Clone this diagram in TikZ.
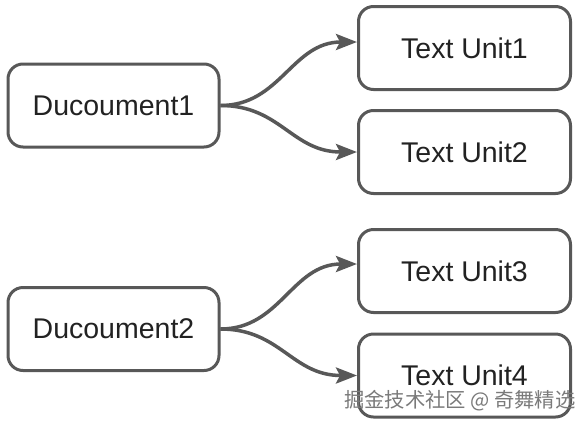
\documentclass[tikz,border=0pt]{standalone}
\usepackage{fontspec}
\setmainfont{Liberation Sans}
\newfontfamily\cjkfont{Noto Sans CJK SC}
\usetikzlibrary{arrows.meta}
\definecolor{linegray}{HTML}{585858}
\definecolor{textdark}{HTML}{222222}
\definecolor{wmgray}{HTML}{7A7A7A}
\tikzset{
  box/.style={draw=linegray, line width=3pt, rounded corners=15pt, fill=white,
    text=textdark, font=\fontsize{28.5}{31}\selectfont, inner sep=0pt},
  docbox/.style={box, minimum width=211pt, minimum height=83pt},
  unitbox/.style={box, minimum width=212pt, minimum height=83pt},
  conn/.style={draw=linegray, line width=3.5pt,
    -{Stealth[length=21pt,width=16pt,inset=4pt]}},
}
\begin{document}
\begin{tikzpicture}[x=1pt,y=-1pt]
\useasboundingbox (0,0) rectangle (584,424);
\node[docbox] (d1) at (113.5,105.5) {Ducoument1};
\node[docbox] (d2) at (113.5,329) {Ducoument2};
\node[unitbox] (u1) at (464.5,48) {Text Unit1};
\node[unitbox] (u2) at (464.5,152) {Text Unit2};
\node[unitbox] (u3) at (464.5,271) {Text Unit3};
\node[unitbox] (u4) at (464.5,375.5) {Text Unit4};
\draw[conn] (d1.east) .. controls +(60,0) and +(-65,0) .. ([yshift=6pt]u1.west);
\draw[conn] (d1.east) .. controls +(60,0) and +(-65,0) .. (u2.west);
\draw[conn] (d2.east) .. controls +(60,0) and +(-65,0) .. ([yshift=7pt]u3.west);
\draw[conn] (d2.east) .. controls +(60,0) and +(-65,0) .. (u4.west);
\node[anchor=west, text=wmgray, font=\cjkfont\fontsize{20.3}{22}\selectfont, inner sep=0pt] (wm) at (344,401) {掘金技术社区 @ 奇舞精选};
\end{tikzpicture}
\end{document}
